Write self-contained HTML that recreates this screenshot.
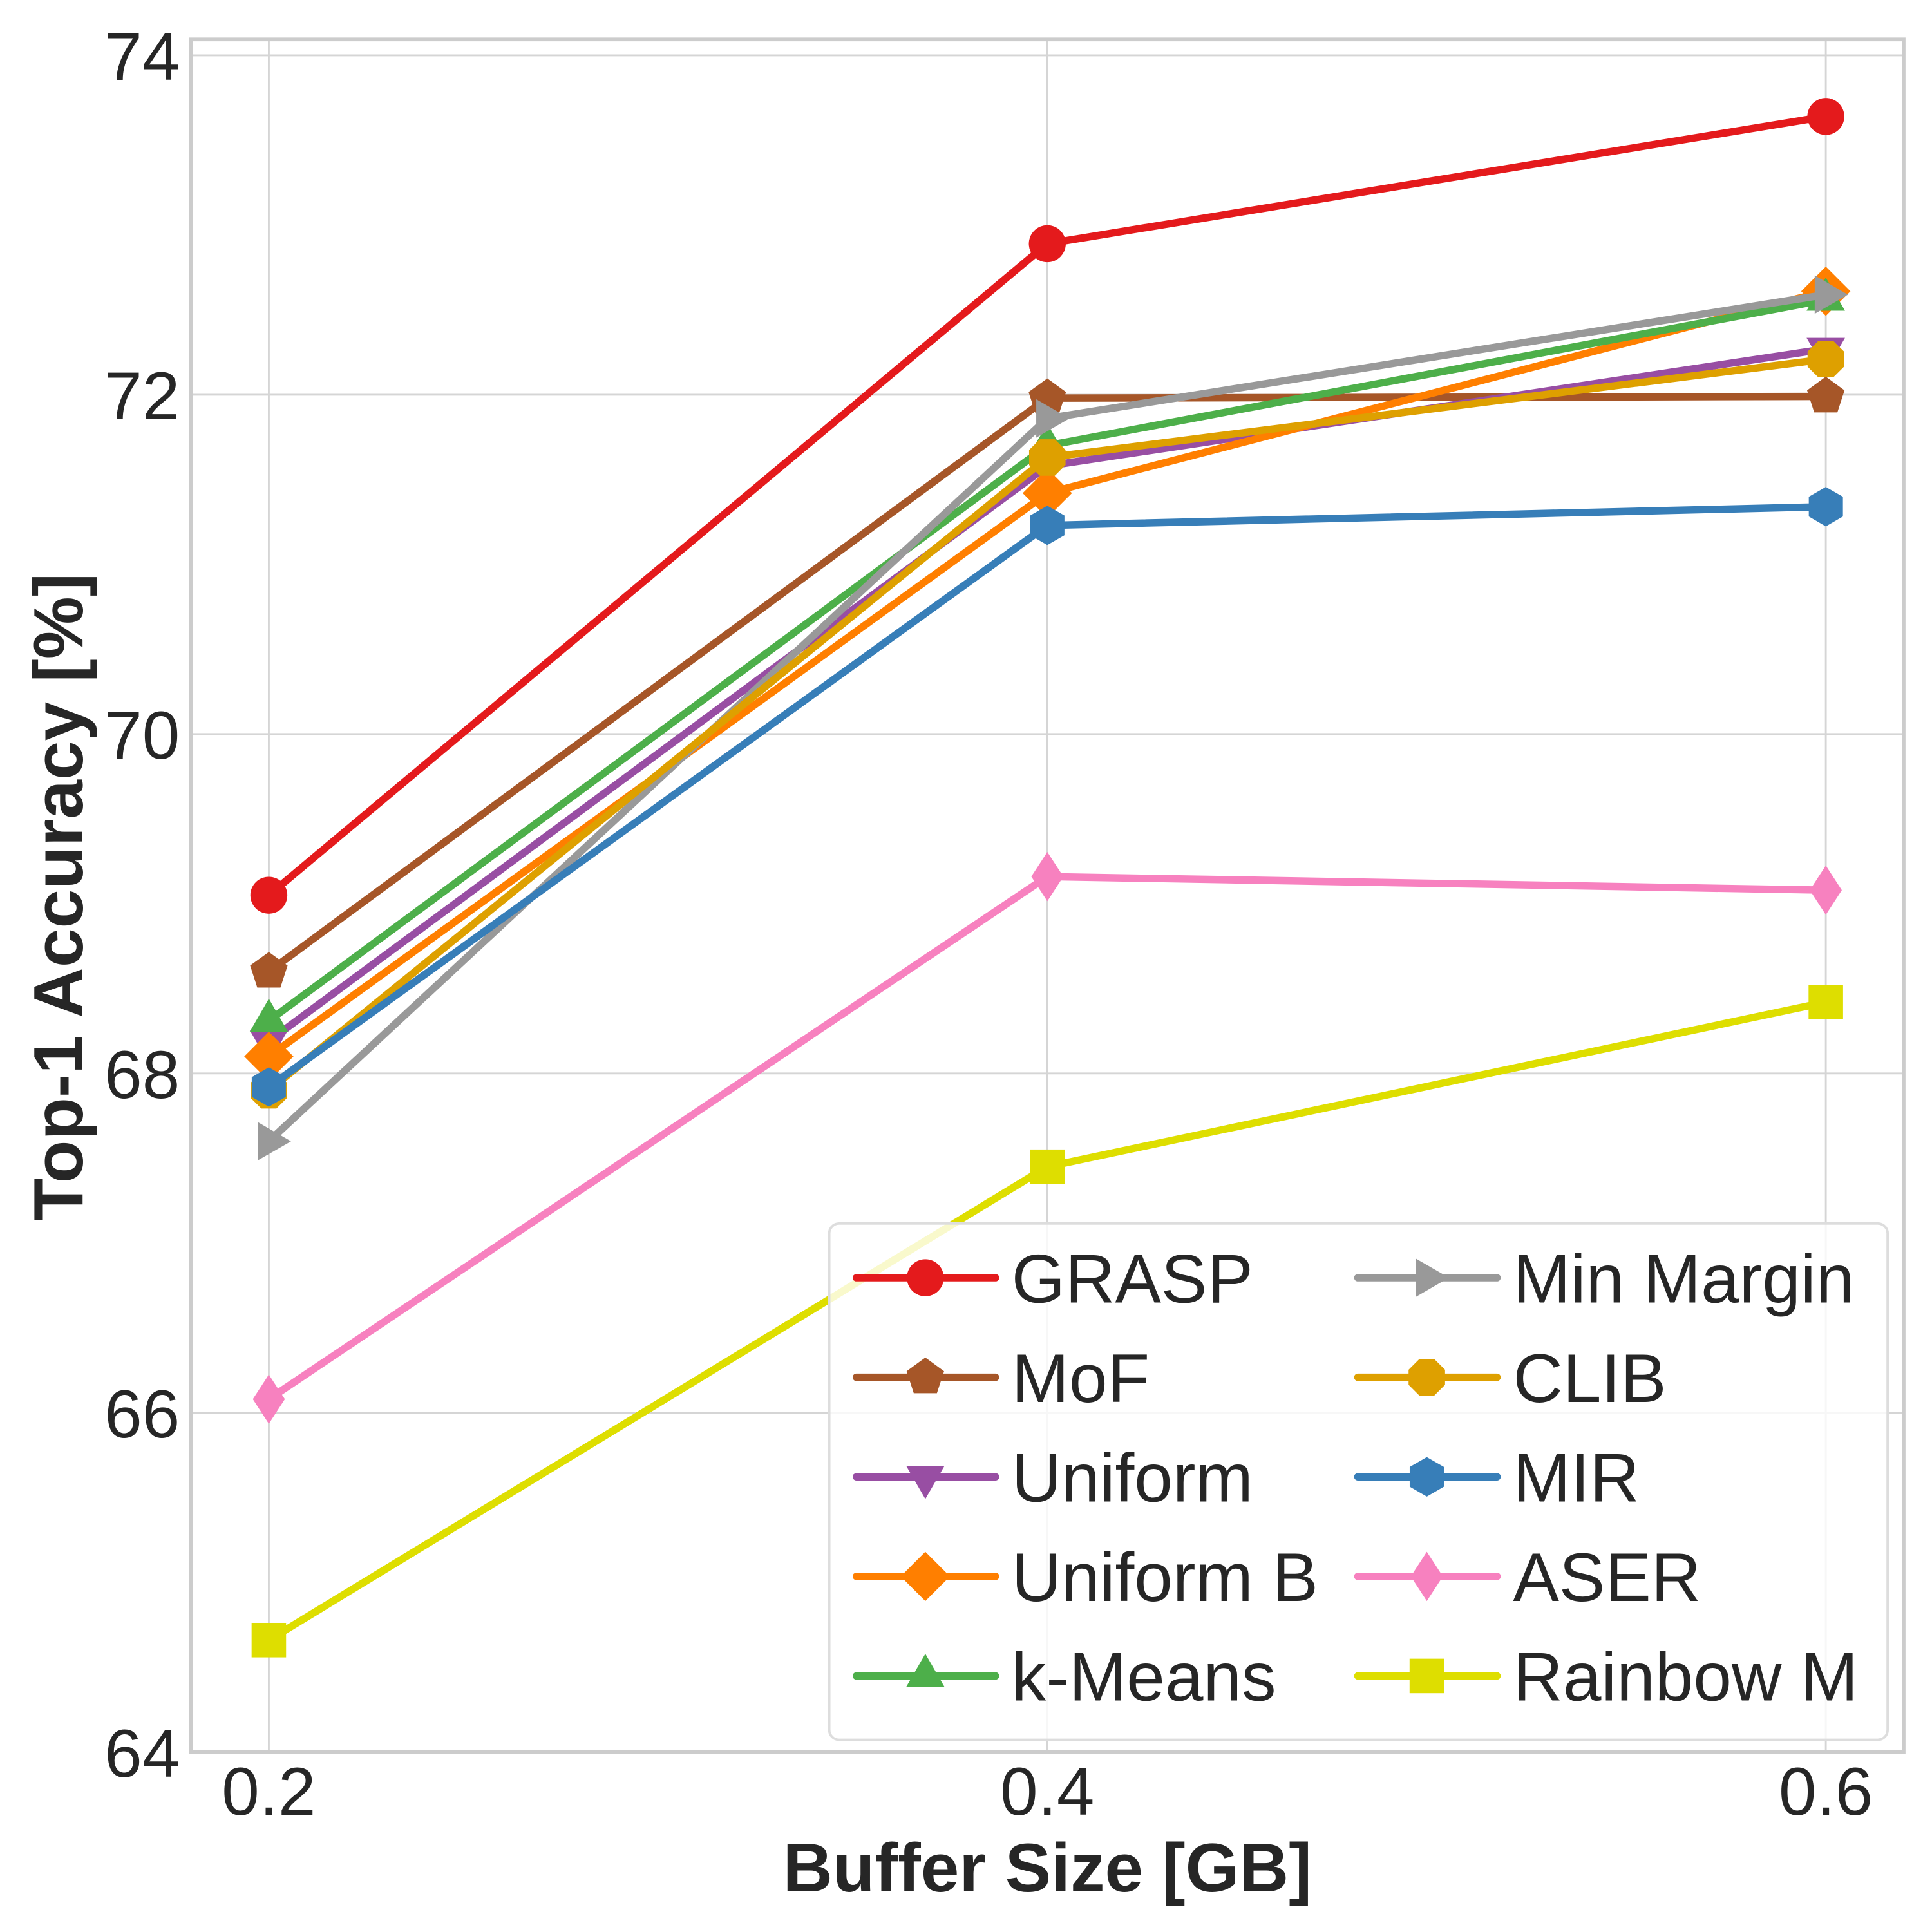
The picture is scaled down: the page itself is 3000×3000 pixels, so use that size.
<!DOCTYPE html>
<html><head><meta charset="utf-8"><style>
html,body{margin:0;padding:0;background:#fff;}
svg{display:block;}
text{font-family:"Liberation Sans",sans-serif;fill:#262626;}
</style></head><body>
<svg id="chart" width="3000" height="3000" viewBox="0 0 1568 1568" xmlns="http://www.w3.org/2000/svg">
<rect x="0" y="0" width="1568" height="1568" fill="#fff"/>
<g id="grid"></g>
<g id="series"></g>
<g id="legend"></g>
<rect x="155" y="32" width="1390" height="1390" fill="none" stroke="#cccccc" stroke-width="3"/>
<g id="ticks"></g>
<text x="850" y="1535" font-size="56" font-weight="bold" text-anchor="middle">Buffer Size [GB]</text>
<text transform="translate(67,728) rotate(-90)" font-size="57" font-weight="bold" text-anchor="middle">Top-1 Accuracy [%]</text>
</svg>
<script>
const xValues = [0.2, 0.4, 0.6];
const xTickLabels = ["0.2", "0.4", "0.6"];
const yTicks = [64, 66, 68, 70, 72, 74];
const seriesNames = ["GRASP","MoF","Uniform","Uniform B","k-Means","Min Margin","CLIB","MIR","ASER","Rainbow M"];
const graspVals = [69.05, 72.89, 73.64];
const mofVals = [68.60, 71.98, 71.99];
const uniformVals = [68.19, 71.58, 72.27];
const uniformBVals = [68.10, 71.42, 72.61];
const kmeansVals = [68.31, 71.70, 72.56];
const minMarginVals = [67.60, 71.86, 72.59];
const clibVals = [67.90, 71.63, 72.21];
const mirVals = [67.92, 71.23, 71.34];
const aserVals = [66.08, 69.16, 69.08];
const rainbowVals = [64.66, 67.45, 68.42];

const NS = "http://www.w3.org/2000/svg";
const X0 = 155, X1 = 1545, Y0 = 32, Y1 = 1422;
const xMin = 0.18, xMax = 0.62, yMin = 64, yMax = 74.094;
function xs(v){ return X0 + (v - xMin) / (xMax - xMin) * (X1 - X0); }
function ys(v){ return Y1 - (v - yMin) / (yMax - yMin) * (Y1 - Y0); }
function mk(tag, attrs, parent){ const e = document.createElementNS(NS, tag); for (const k in attrs) e.setAttribute(k, attrs[k]); parent.appendChild(e); return e; }

const grid = document.getElementById('grid'), ticks = document.getElementById('ticks');
xValues.forEach((v, i) => {
  const l = mk('line', {x1: xs(v), x2: xs(v), y1: Y0, y2: Y1, stroke: '#d5d5d5', 'stroke-width': 1.5}, grid);
  
  
  const t = mk('text', {x: xs(v), y: 1473, 'font-size': 55, 'text-anchor': 'middle'}, ticks);
  t.textContent = xTickLabels[i];
  
  
});
yTicks.forEach(v => {
  const l = mk('line', {x1: X0, x2: X1, y1: ys(v), y2: ys(v), stroke: '#d5d5d5', 'stroke-width': 1.5}, grid);
  
  
  const t = mk('text', {x: 146, y: ys(v) + 20, 'font-size': 55, 'text-anchor': 'end'}, ticks);
  t.textContent = String(v);
  
  
});

function poly(cx, cy, r, n, rot){ let p = []; for (let i = 0; i < n; i++){ const a = rot + i * 2 * Math.PI / n; p.push((cx + r * Math.cos(a)).toFixed(1) + ',' + (cy + r * Math.sin(a)).toFixed(1)); } return p.join(' '); }
function marker(g, type, cx, cy, color){
  const r = 15;
  if (type === 'circle') return mk('circle', {cx, cy, r, fill: color}, g);
  if (type === 'square') return mk('rect', {x: cx - 14, y: cy - 14, width: 28, height: 28, fill: color}, g);
  let pts;
  if (type === 'pentagon') pts = poly(cx, cy, 16, 5, -Math.PI / 2);
  else if (type === 'tri-down') pts = poly(cx, cy, 18, 3, Math.PI / 2);
  else if (type === 'tri-up') pts = poly(cx, cy, 18, 3, -Math.PI / 2);
  else if (type === 'tri-right') pts = poly(cx, cy, 18, 3, 0);
  else if (type === 'octagon') pts = poly(cx, cy, 16, 8, Math.PI / 8);
  else if (type === 'hexagon') pts = poly(cx, cy, 16, 6, -Math.PI / 2);
  else if (type === 'diamond') pts = `${cx},${cy - 20} ${cx + 20},${cy} ${cx},${cy + 20} ${cx - 20},${cy}`;
  else if (type === 'thin-diamond') pts = `${cx},${cy - 20} ${cx + 13},${cy} ${cx},${cy + 20} ${cx - 13},${cy}`;
  return mk('polygon', {points: pts, fill: color}, g);
}

const allVals = [graspVals, mofVals, uniformVals, uniformBVals, kmeansVals, minMarginVals, clibVals, mirVals, aserVals, rainbowVals];
const colors = ['#e41a1c','#a65628','#984ea3','#ff7f00','#4daf4a','#999999','#dea000','#377eb8','#f781bf','#dede00'];
const markers = ['circle','pentagon','tri-down','diamond','tri-up','tri-right','octagon','hexagon','thin-diamond','square'];
const seriesG = document.getElementById('series');
allVals.forEach((vals, s) => {
  const g = mk('g', {}, seriesG);
  
  
  const pl = mk('polyline', {points: vals.map((v, i) => xs(xValues[i]) + ',' + ys(v)).join(' '), fill: 'none', stroke: colors[s], 'stroke-width': 6, 'stroke-linejoin': 'round', 'stroke-linecap': 'round'}, g);
  
  
  vals.forEach((v, i) => {
    const m = marker(g, markers[s], xs(xValues[i]), ys(v), colors[s]);
    
    
  });
});

const leg = document.getElementById('legend');
const box = mk('rect', {x: 673, y: 993, width: 859, height: 419, rx: 8, fill: '#fff', 'fill-opacity': 0.8, stroke: '#dddddd', 'stroke-width': 2}, leg);


seriesNames.forEach((n, s) => {
  const col = Math.floor(s / 5), row = s % 5;
  const lx = col === 0 ? 695 : 1102, ly = 1037 + row * 80.8;
  const g = mk('g', {}, leg);
  
  
  mk('line', {x1: lx, x2: lx + 113, y1: ly, y2: ly, stroke: colors[s], 'stroke-width': 6, 'stroke-linecap': 'round'}, g);
  marker(g, markers[s], lx + 56, ly, colors[s]);
  const t = mk('text', {x: lx + 126, y: ly + 20, 'font-size': 56}, g);
  t.textContent = n;
});
</script>
</body></html>
